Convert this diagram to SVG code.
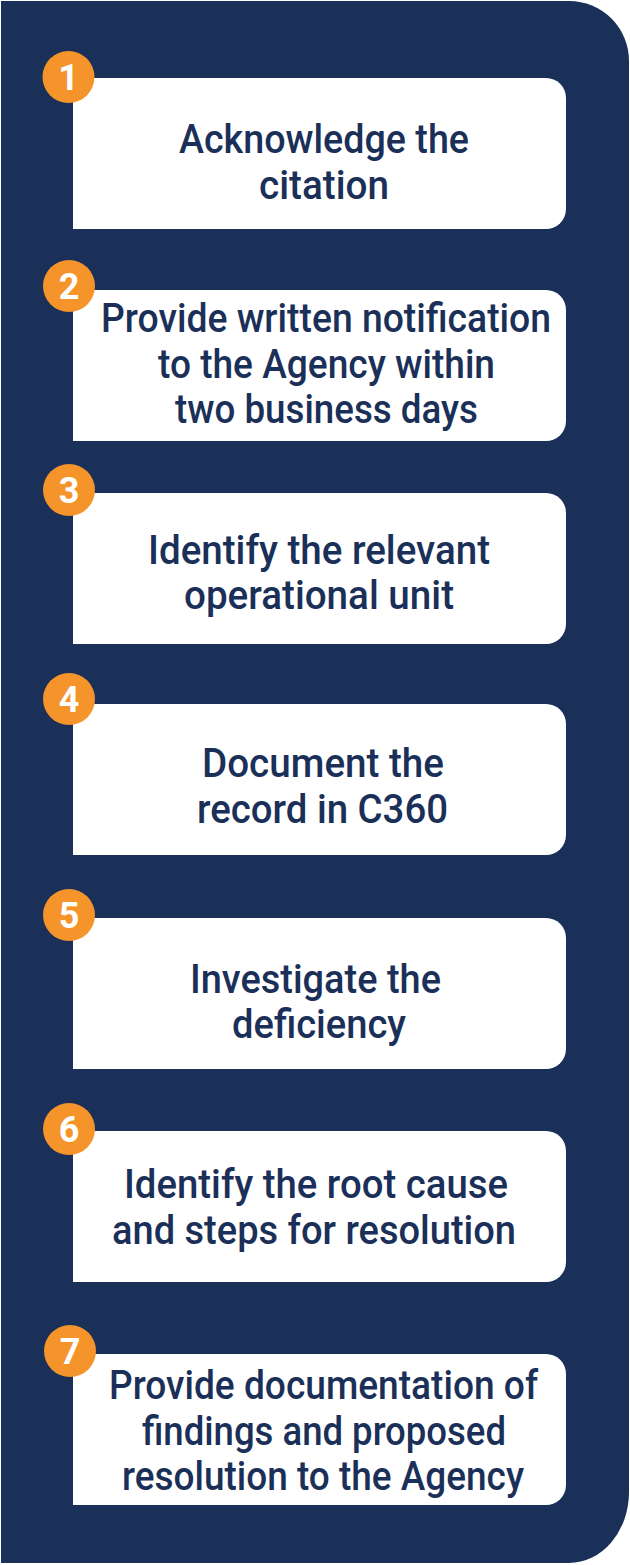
<svg xmlns="http://www.w3.org/2000/svg" width="630" height="1565" viewBox="0 0 630 1565">
<style>
.bg{fill:#1b3058}
.box{fill:#ffffff}
.num{fill:#f5942a}
.t{font-family:Roboto,"Liberation Sans",sans-serif;font-weight:500;font-size:40px;fill:#1b3058}
.n{font-family:Roboto,"Liberation Sans",sans-serif;font-weight:700;font-size:36px;fill:#ffffff;text-anchor:middle}
</style>
<defs>
<path id="card" d="M0,0 H473 A20,20 0 0 1 493,20 V131 A20,20 0 0 1 473,151 H0 Z"/>
</defs>
<rect x="0" y="0" width="630" height="1565" fill="#ffffff"/>
<path class="bg" d="M1,1 H569 A60,60 0 0 1 629,61 V1492 A60,71 0 0 1 569,1563 H1 Z"/>
<g id="connectors"/>
<g id="step1">
<use href="#card" class="box" x="73" y="78"/>
<text class="t" x="179" y="153" textLength="290" lengthAdjust="spacingAndGlyphs">Acknowledge the</text>
<text class="t" x="259" y="199" textLength="130" lengthAdjust="spacingAndGlyphs">citation</text>
<circle class="num" cx="68.5" cy="77" r="26"/>
<text class="n" x="68.5" y="90">1</text>
</g>
<g id="step2">
<use href="#card" class="box" x="73" y="290"/>
<text class="t" x="101" y="332" textLength="450" lengthAdjust="spacingAndGlyphs">Provide written notification</text>
<text class="t" x="158" y="378" textLength="337" lengthAdjust="spacingAndGlyphs">to the Agency within</text>
<text class="t" x="175" y="423" textLength="303" lengthAdjust="spacingAndGlyphs">two business days</text>
<circle class="num" cx="69" cy="286" r="26"/>
<text class="n" x="69" y="299">2</text>
</g>
<g id="step3">
<use href="#card" class="box" x="73" y="493"/>
<text class="t" x="148" y="564" textLength="342" lengthAdjust="spacingAndGlyphs">Identify the relevant</text>
<text class="t" x="184" y="609" textLength="270" lengthAdjust="spacingAndGlyphs">operational unit</text>
<circle class="num" cx="69" cy="490" r="26"/>
<text class="n" x="69" y="503">3</text>
</g>
<g id="step4">
<use href="#card" class="box" x="73" y="704"/>
<text class="t" x="202" y="777" textLength="242" lengthAdjust="spacingAndGlyphs">Document the</text>
<text class="t" x="197" y="823" textLength="251" lengthAdjust="spacingAndGlyphs">record in C360</text>
<circle class="num" cx="69" cy="699" r="26"/>
<text class="n" x="69" y="712">4</text>
</g>
<g id="step5">
<use href="#card" class="box" x="73" y="918"/>
<text class="t" x="190" y="993" textLength="251" lengthAdjust="spacingAndGlyphs">Investigate the</text>
<text class="t" x="232" y="1038" textLength="174" lengthAdjust="spacingAndGlyphs">deficiency</text>
<circle class="num" cx="69" cy="915" r="26"/>
<text class="n" x="69" y="928">5</text>
</g>
<g id="step6">
<use href="#card" class="box" x="73" y="1131"/>
<text class="t" x="124" y="1198" textLength="384" lengthAdjust="spacingAndGlyphs">Identify the root cause</text>
<text class="t" x="112" y="1244" textLength="404" lengthAdjust="spacingAndGlyphs">and steps for resolution</text>
<circle class="num" cx="69" cy="1129" r="26"/>
<text class="n" x="69" y="1142">6</text>
</g>
<g id="step7">
<use href="#card" class="box" x="73" y="1354"/>
<text class="t" x="109" y="1399" textLength="429" lengthAdjust="spacingAndGlyphs">Provide documentation of</text>
<text class="t" x="142" y="1445" textLength="364" lengthAdjust="spacingAndGlyphs">findings and proposed</text>
<text class="t" x="122" y="1490" textLength="402" lengthAdjust="spacingAndGlyphs">resolution to the Agency</text>
<circle class="num" cx="70" cy="1351" r="26"/>
<text class="n" x="70" y="1364">7</text>
</g>
</svg>
